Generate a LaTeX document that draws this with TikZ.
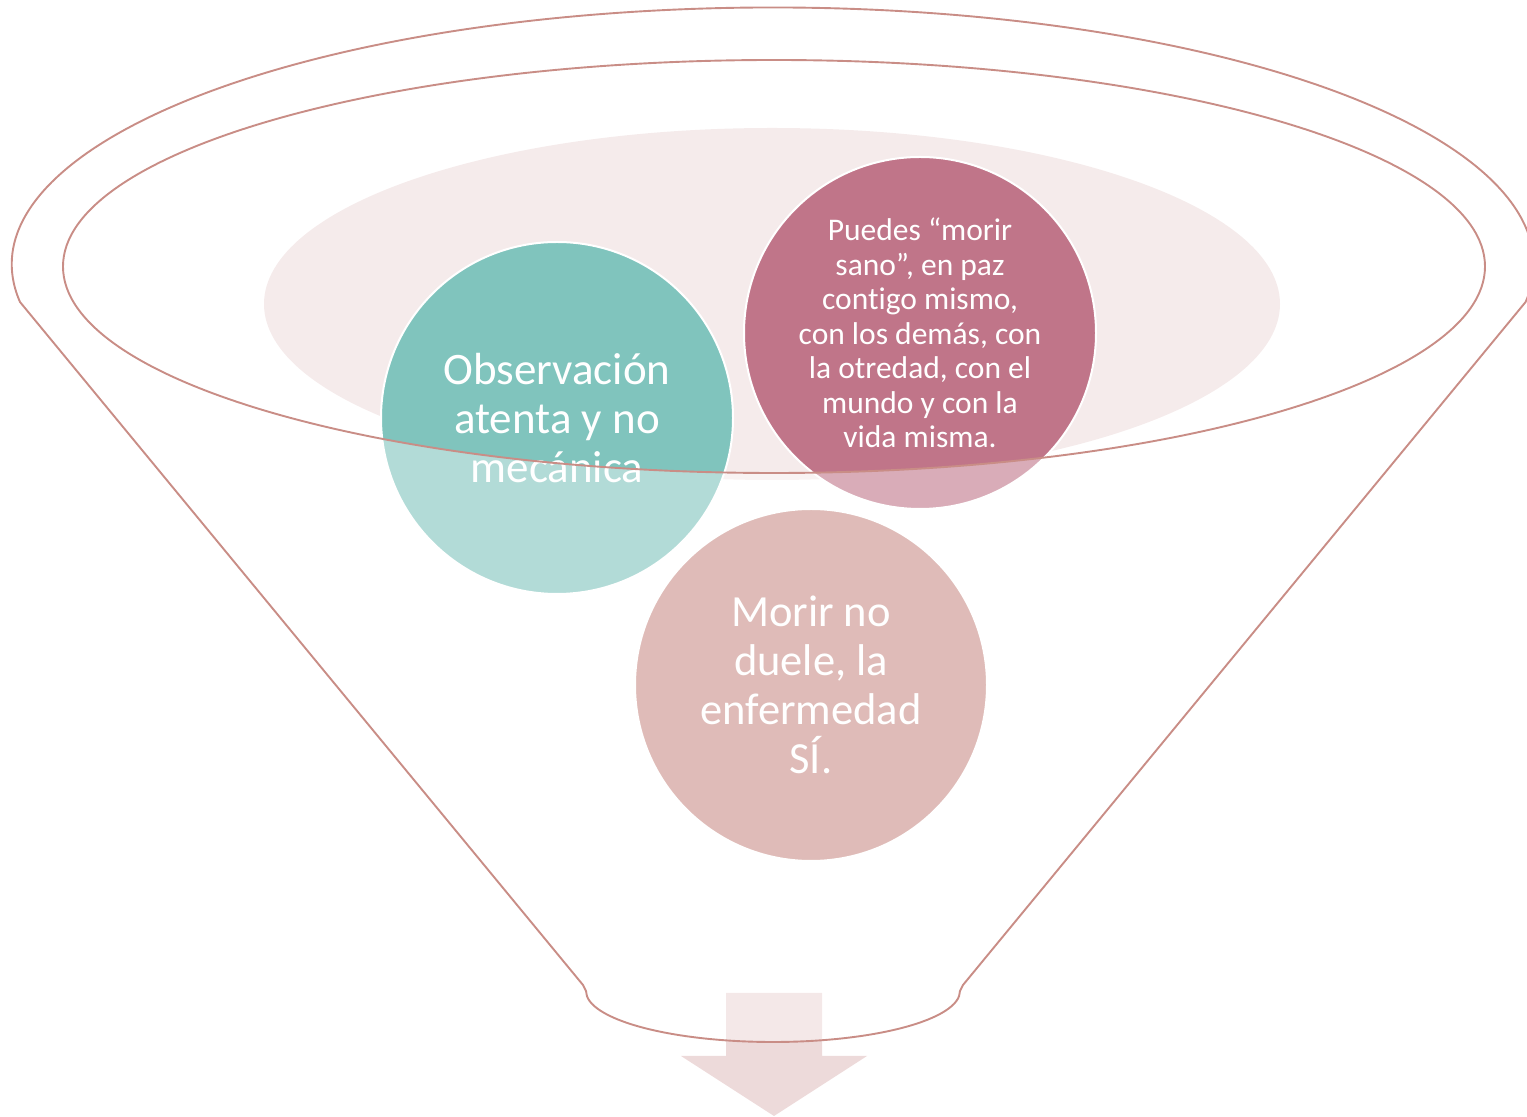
\documentclass[tikz,border=0pt]{standalone}
\usepackage{fontspec}
\setmainfont{Carlito}[Ligatures=NoCommon]
\usetikzlibrary{positioning}
\definecolor{funnel_line_colour}{HTML}{C98D86}
\definecolor{opening_fill_colour}{HTML}{F5EBEB}
\definecolor{observation_fill_colour}{HTML}{80C4BD}
\definecolor{peace_fill_colour}{HTML}{C07589}
\definecolor{pain_fill_colour}{HTML}{CA8F89}
\definecolor{arrow_fill_colour}{HTML}{EDDADA}
\tikzstyle{idea_circle} =[circle,draw=white,line width=2pt,minimum size=352pt,inner sep=0pt,align=center,text=white]
\tikzstyle{funnel_body} =[fill=white,fill opacity=0.4,draw=funnel_line_colour,line width=1.9pt,even odd rule]

\begin{document}
\begin{tikzpicture}[x=1pt,y=1pt]

    \useasboundingbox (0,0) rectangle (1527,1117);



    % Opening of the funnel
    \fill[opening_fill_colour] (772,813) ellipse[x radius=508pt,y radius=176pt];



    % Circles
    \node[idea_circle,fill=observation_fill_colour,font=\fontsize{45}{49}\selectfont] (observation_circle) at (557,699) {Observación\\atenta y no\\mecánica};
    \node[idea_circle,fill=peace_fill_colour,font=\fontsize{31.5}{34.5}\selectfont] (peace_circle) at (920,784) {Puedes “morir\\sano”, en paz\\contigo mismo,\\con los demás, con\\la otredad, con el\\mundo y con la\\vida misma.};
    \node[idea_circle,fill=pain_fill_colour,font=\fontsize{44.5}{49}\selectfont] (pain_circle) at (811,432) {Morir no\\duele, la\\enfermedad\\SÍ.};



    % Arrow out of the funnel
    \fill[arrow_fill_colour] (726,124) -- (822,124) -- (822,61) -- (867,61) -- (774,1) -- (681,61) -- (726,61) -- cycle;



    % Funnel with its inner rim
    \path[funnel_body] (20,815) arc[start angle=188.4,end angle=-8.4,x radius=761pt,y radius=257pt]
        -- (963,132) -- (960,126) arc[start angle=0,end angle=-180,x radius=187pt,y radius=51pt] -- (583,132) -- cycle
        (774,850.5) ellipse[x radius=711pt,y radius=206.5pt];

\end{tikzpicture}
\end{document}
